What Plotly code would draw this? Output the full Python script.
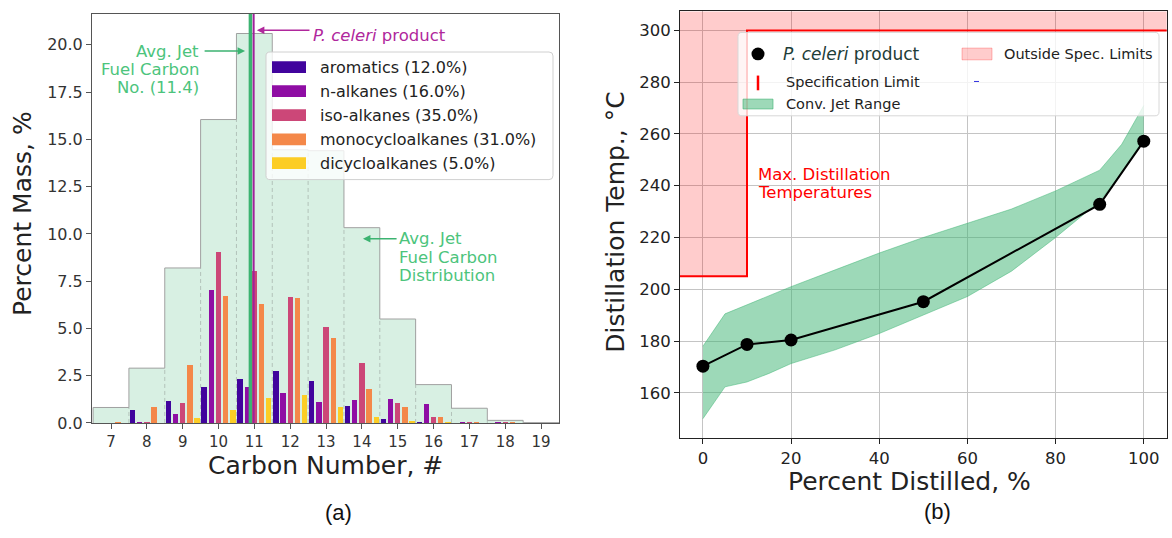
import plotly.graph_objects as go

W, H = 1172, 538

# ---------------- data: panel (a) ----------------
carbon_numbers = list(range(7, 20))
jet_distribution = [0.82, 2.90, 8.20, 16.05, 20.60, 14.45, 14.40, 10.33, 5.50, 2.03, 0.78, 0.14, 0.02]
aromatics = [0.00, 0.69, 1.16, 1.91, 2.31, 2.74, 2.20, 0.90, 0.23, 0.05, 0.00, 0.00, 0.00]
n_alkanes = [0.00, 0.03, 0.49, 7.03, 1.91, 1.56, 1.11, 1.20, 1.25, 0.99, 0.03, 0.02, 0.00]
iso_alkanes = [0.00, 0.03, 1.08, 9.03, 8.04, 6.68, 5.07, 3.16, 1.08, 0.30, 0.03, 0.02, 0.00]
monocycloalkanes = [0.03, 0.87, 3.05, 6.70, 6.30, 6.60, 4.48, 1.79, 0.87, 0.30, 0.03, 0.02, 0.00]
dicycloalkanes = [0.00, 0.00, 0.26, 0.66, 1.32, 1.49, 0.85, 0.33, 0.12, 0.03, 0.00, 0.00, 0.00]
class_names = ["aromatics (12.0%)", "n-alkanes (16.0%)", "iso-alkanes (35.0%)",
               "monocycloalkanes (31.0%)", "dicycloalkanes (5.0%)"]
avg_jet_carbon = 10.89
celeri_carbon = 10.98

# ---------------- data: panel (b) ----------------
product_pct = [0, 10, 20, 50, 90, 100]
product_temp = [170.3, 178.7, 180.4, 195.2, 232.8, 257.2]
band_pct = [0, 5, 10, 15, 20, 30, 40, 50, 60, 70, 80, 90, 95, 100]
band_low = [150.0, 162.3, 164.2, 167.5, 171.3, 176.6, 182.9, 190.0, 197.2, 207.0, 220.0, 234.0, 245.0, 258.0]
band_high = [178.0, 190.5, 194.0, 197.5, 201.0, 207.5, 214.0, 220.0, 225.5, 231.0, 238.0, 246.0, 256.0, 271.0]
spec_x = [-10, 10, 10, 110]
spec_y = [205, 205, 300, 300]

class_colors = ["#41049d", "#8f0da4", "#cc4778", "#f48849", "#fccd25"]
offsets = [-0.4, -0.2, 0.0, 0.2, 0.4]

FONT = "DejaVu Sans"
GREEN_TXT = "#4cc47c"
GREEN = "#3cb371"
MAGENTA = "#b0279c"


def px(x):
    return x / W


def py(y):
    return 1 - y / H


def rounded_box(x0, y0, x1, y1, r=4):
    """Rounded rectangle path in paper coords from pixel coords (y downwards)."""
    pts = []
    X = lambda v: f"{v / W:.5f}"
    Y = lambda v: f"{1 - v / H:.5f}"
    pts.append(f"M {X(x0 + r)},{Y(y0)}")
    pts.append(f"L {X(x1 - r)},{Y(y0)}")
    pts.append(f"Q {X(x1)},{Y(y0)} {X(x1)},{Y(y0 + r)}")
    pts.append(f"L {X(x1)},{Y(y1 - r)}")
    pts.append(f"Q {X(x1)},{Y(y1)} {X(x1 - r)},{Y(y1)}")
    pts.append(f"L {X(x0 + r)},{Y(y1)}")
    pts.append(f"Q {X(x0)},{Y(y1)} {X(x0)},{Y(y1 - r)}")
    pts.append(f"L {X(x0)},{Y(y0 + r)}")
    pts.append(f"Q {X(x0)},{Y(y0)} {X(x0 + r)},{Y(y0)} Z")
    return " ".join(pts)


fig = go.Figure()

# jet fuel distribution (background histogram)
fig.add_trace(go.Bar(x=carbon_numbers, y=jet_distribution, width=1.0,
                     marker=dict(color="rgba(60,179,113,0.2)", line=dict(width=0)),
                     xaxis="x", yaxis="y", showlegend=False))
# dashed inner bin edges
dx, dy = [], []
for i in range(len(carbon_numbers) - 1):
    edge = carbon_numbers[i] + 0.5
    dx += [edge, edge, None]
    dy += [0, min(jet_distribution[i], jet_distribution[i + 1]), None]
fig.add_trace(go.Scatter(x=dx, y=dy, mode="lines", line=dict(color="rgba(110,110,110,0.35)", width=1, dash="4px,3px"),
                         xaxis="x", yaxis="y", showlegend=False, hoverinfo="skip"))
# step outline
sx = [carbon_numbers[0] - 0.5] + [c - 0.5 for c in carbon_numbers] + [carbon_numbers[-1] + 0.5]
sy = [0] + jet_distribution + [0]
fig.add_trace(go.Scatter(x=sx, y=sy, mode="lines", line=dict(color="#a0a0a0", width=1, shape="hv"),
                         xaxis="x", yaxis="y", showlegend=False, hoverinfo="skip"))

for vals, col, off, name in zip([aromatics, n_alkanes, iso_alkanes, monocycloalkanes, dicycloalkanes],
                                class_colors, offsets, class_names):
    fig.add_trace(go.Bar(x=[c + off for c in carbon_numbers], y=vals, width=0.15,
                         marker=dict(color=col, line=dict(width=0)), name=name,
                         xaxis="x", yaxis="y", showlegend=False))

# panel (b) traces
poly_x = spec_x + [spec_x[-1], spec_x[0]]
poly_y = spec_y + [330, 330]
fig.add_trace(go.Scatter(x=poly_x, y=poly_y, fill="toself", fillcolor="rgba(255,0,0,0.2)",
                         mode="lines", line=dict(width=0), xaxis="x2", yaxis="y2",
                         showlegend=False, hoverinfo="skip"))
fig.add_trace(go.Scatter(x=spec_x, y=spec_y, mode="lines", line=dict(color="#ff0000", width=2),
                         xaxis="x2", yaxis="y2", showlegend=False))
fig.add_trace(go.Scatter(x=band_pct, y=band_low, mode="lines", line=dict(color="rgba(60,179,113,0.6)", width=0.8),
                         xaxis="x2", yaxis="y2", showlegend=False))
fig.add_trace(go.Scatter(x=band_pct, y=band_high, mode="lines", fill="tonexty",
                         fillcolor="rgba(60,179,113,0.5)", line=dict(color="rgba(60,179,113,0.6)", width=0.8),
                         xaxis="x2", yaxis="y2", showlegend=False))
fig.add_trace(go.Scatter(x=product_pct, y=product_temp, mode="lines+markers",
                         line=dict(color="black", width=2), marker=dict(color="black", size=13),
                         xaxis="x2", yaxis="y2", showlegend=False))

shapes = []
annotations = []

# vertical lines panel (a)
shapes.append(dict(type="line", xref="x", yref="y domain", x0=avg_jet_carbon, x1=avg_jet_carbon, y0=0, y1=1,
                   line=dict(color=GREEN, width=3.5), layer="above"))
shapes.append(dict(type="line", xref="x", yref="y domain", x0=celeri_carbon, x1=celeri_carbon, y0=0, y1=1,
                   line=dict(color="#a0209a", width=2), layer="above"))

# legend (a)
shapes.append(dict(type="path", xref="paper", yref="paper", path=rounded_box(266, 53, 553, 183),
                   fillcolor="rgba(255,255,255,0.8)", line=dict(color="#d0d0d0", width=1), layer="above"))
rows_a = [68.5, 92.8, 117.3, 142.0, 166.3]
for ry, col, name in zip(rows_a, class_colors, class_names):
    shapes.append(dict(type="rect", xref="paper", yref="paper", x0=px(272), x1=px(306), y0=py(ry + 6),
                       y1=py(ry - 6), fillcolor=col, line=dict(width=0), layer="above"))
    annotations.append(dict(text=name, xref="paper", yref="paper", x=px(318), y=py(ry), xanchor="left",
                            yanchor="middle", showarrow=False, font=dict(family=FONT, size=16, color="#222")))

# legend (b)
shapes.append(dict(type="path", xref="paper", yref="paper", path=rounded_box(738, 33, 1159, 118),
                   fillcolor="rgba(255,255,255,0.8)", line=dict(color="#d8d8d8", width=1), layer="above"))
shapes.append(dict(type="circle", xref="paper", yref="paper", x0=px(751.5), x1=px(764.5), y0=py(61.5),
                   y1=py(48.5), fillcolor="black", line=dict(width=0), layer="above"))
shapes.append(dict(type="line", xref="paper", yref="paper", x0=px(758), x1=px(758), y0=py(92), y1=py(77),
                   line=dict(color="#ff0000", width=2.5), layer="above"))
shapes.append(dict(type="rect", xref="paper", yref="paper", x0=px(743), x1=px(773), y0=py(111), y1=py(101),
                   fillcolor="rgba(60,179,113,0.5)", line=dict(color="rgba(60,179,113,0.6)", width=1), layer="above"))
shapes.append(dict(type="rect", xref="paper", yref="paper", x0=px(962), x1=px(992), y0=py(61), y1=py(49),
                   fillcolor="rgba(255,0,0,0.2)", line=dict(color="rgba(255,0,0,0.25)", width=1), layer="above"))
shapes.append(dict(type="line", xref="paper", yref="paper", x0=px(974), x1=px(979), y0=py(83), y1=py(83),
                   line=dict(color="#3030e0", width=1), layer="above"))
annotations += [
    dict(text="<i>P. celeri</i> product", x=px(781), y=py(55), font=dict(family=FONT, size=17, color="#1e3d38")),
    dict(text="Outside Spec. Limits", x=px(1002), y=py(55), font=dict(family=FONT, size=14.5, color="#222")),
    dict(text="Specification Limit", x=px(784), y=py(84), font=dict(family=FONT, size=14.5, color="#222")),
    dict(text="Conv. Jet Range", x=px(784), y=py(106), font=dict(family=FONT, size=14.5, color="#222")),
]
for a in annotations[-4:]:
    a.update(xref="paper", yref="paper", xanchor="left", yanchor="middle", showarrow=False)

# panel (a) annotations
annotations.append(dict(text="<i>P. celeri</i> product", xref="x", yref="y", x=12.58, y=20.5, xanchor="left",
                        yanchor="middle", showarrow=False, font=dict(family=FONT, size=16.5, color=MAGENTA)))
annotations.append(dict(text="", xref="x", yref="y", x=11.07, y=20.77, ax=12.58, ay=20.77, axref="x", ayref="y",
                        showarrow=True, arrowhead=2, arrowsize=1, arrowwidth=1.5, arrowcolor=MAGENTA))
for txt, yy in zip(["Avg. Jet", "Fuel Carbon", "No. (11.4)"], [52, 71, 89.5]):
    annotations.append(dict(text=txt, xref="x", yref="paper", x=9.5, y=py(yy), xanchor="right", yanchor="middle",
                            showarrow=False, font=dict(family=FONT, size=16.5, color=GREEN_TXT)))
annotations.append(dict(text="", xref="x", yref="y", x=10.74, y=19.68, ax=9.57, ay=19.68, axref="x", ayref="y",
                        showarrow=True, arrowhead=2, arrowsize=1, arrowwidth=1.5, arrowcolor=GREEN))
for txt, yy in zip(["Avg. Jet", "Fuel Carbon", "Distribution"], [243, 262, 280.5]):
    annotations.append(dict(text=txt, xref="x", yref="paper", x=14.99, y=py(yy), xanchor="left", yanchor="middle",
                            showarrow=False, font=dict(family=FONT, size=16.5, color=GREEN_TXT)))
annotations.append(dict(text="", xref="x", yref="y", x=14.03, y=9.75, ax=15.01, ay=9.75, axref="x", ayref="y",
                        showarrow=True, arrowhead=2, arrowsize=1, arrowwidth=1.5, arrowcolor=GREEN))

# panel (b) text
for txt, yy in zip(["Max. Distillation", "Temperatures"], [177.5, 196.5]):
    annotations.append(dict(text=txt, xref="x2", yref="paper", x=12.0, y=py(yy), xanchor="left", yanchor="middle",
                            showarrow=False, font=dict(family=FONT, size=16.5, color="#ff0000")))

# axis titles and panel labels
annotations += [
    dict(text="Percent Mass, %", x=px(23), y=py(218), textangle=-90, font=dict(family=FONT, size=25, color="#222")),
    dict(text="Carbon Number, #", x=px(325), y=py(474), font=dict(family=FONT, size=25, color="#222")),
    dict(text="(a)", x=px(338), y=py(522), font=dict(family="Liberation Sans", size=22, color="#111")),
    dict(text="Distillation Temp., °C", x=px(616), y=py(227), textangle=-90, font=dict(family=FONT, size=25, color="#222")),
    dict(text="Percent Distilled, %", x=px(909), y=py(491), font=dict(family=FONT, size=25, color="#222")),
    dict(text="(b)", x=px(937), y=py(521), font=dict(family="Liberation Sans", size=22, color="#111")),
]
for a in annotations[-6:]:
    a.update(xref="paper", yref="paper", xanchor="center", yanchor="middle", showarrow=False)

axis_common = dict(showline=True, mirror=True, ticks="outside", ticklen=5, tickwidth=1, zeroline=False)

fig.update_layout(
    width=W, height=H, margin=dict(l=0, r=0, t=0, b=0),
    paper_bgcolor="white", plot_bgcolor="white",
    barmode="overlay", bargap=0,
    font=dict(family=FONT, color="#222"),
    shapes=shapes, annotations=annotations,
    xaxis=dict(domain=[px(92), px(559)], range=[6.47, 19.5], anchor="y", tickvals=carbon_numbers,
               linecolor="#555", tickcolor="#555", showgrid=False, tickfont=dict(size=15, color="#333"),
               **axis_common),
    yaxis=dict(domain=[py(431), py(14.3)], range=[0, 21.63], anchor="x", tickvals=[i * 2.5 for i in range(9)],
               tickformat=".1f", linecolor="#555", tickcolor="#555", showgrid=False,
               tickfont=dict(size=16, color="#333"), **axis_common),
    xaxis2=dict(domain=[px(680), px(1166.7)], range=[-5.2, 105.2], anchor="y2", tickvals=[0, 20, 40, 60, 80, 100],
                linecolor="#222", tickcolor="#222", showgrid=True, gridcolor="#c4c4c4", gridwidth=1.3,
                tickfont=dict(size=16.5, color="#222"), **axis_common),
    yaxis2=dict(domain=[py(446.7), py(11.7)], range=[142.4, 307.3], anchor="x2",
                tickvals=[160, 180, 200, 220, 240, 260, 280, 300],
                linecolor="#222", tickcolor="#222", showgrid=True, gridcolor="#c4c4c4", gridwidth=1.3,
                tickfont=dict(size=16.5, color="#222"), **axis_common),
)

fig.write_html("out.html", config={"displayModeBar": False},
               post_script="document.body.style.margin='0px';document.body.style.overflow='hidden';")
